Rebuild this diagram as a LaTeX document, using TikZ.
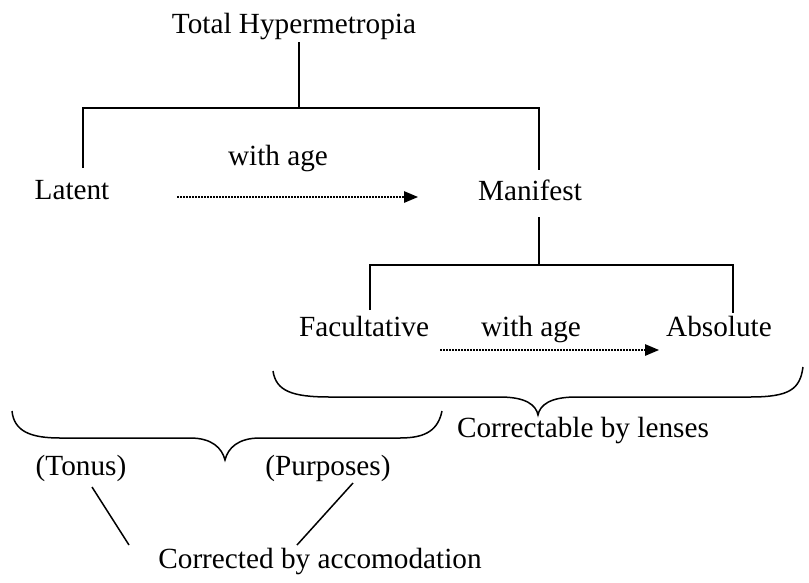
\documentclass[tikz,border=0pt]{standalone}
\usepackage{fontspec}
\setmainfont{Liberation Serif}
\usetikzlibrary{arrows.meta}

\tikzset{
  lbl/.style = {font=\fontsize{11.7}{14}\selectfont, inner sep=1pt, anchor=base},
  agearrow/.style = {line width=0.5pt, dash pattern=on 0.7pt off 0.5pt,
    -{Triangle[length=5.6pt,width=4.6pt]}},
}

\begin{document}
\begin{tikzpicture}[x=0.4pt, y=-0.4pt, line width=0.6pt]

\useasboundingbox (0,0) rectangle (809,582);

% texts
\node[lbl] (total) at (294,33) {Total Hypermetropia};
\node[lbl] (latent) at (72,199) {Latent};
\node[lbl] (age1) at (278,165) {with age};
\node[lbl] (manifest) at (530,200) {Manifest};
\node[lbl] (facult) at (364,336) {Facultative};
\node[lbl] (age2) at (531,336) {with age};
\node[lbl] (absolute) at (719,336) {Absolute};
\node[lbl] (lenses) at (583,437) {Correctable by lenses};
\node[lbl] (tonus) at (81,475) {(Tonus)};
\node[lbl] (purpose) at (328,475) {(Purposes)};
\node[lbl] (accom) at (320,568) {Corrected by accomodation};

% tree
\coordinate (top) at (299,42);
\coordinate (bar1) at (299,108);
\coordinate (bar1l) at (83,108);
\coordinate (bar1r) at (539,108);
\coordinate (mid) at (539,217);
\coordinate (bar2) at (539,265);
\coordinate (bar2l) at (370,265);
\coordinate (bar2r) at (733,265);

\draw (top) -- (bar1);
\draw (83,168) -- (bar1l) -- (bar1r) -- (539,170);
\draw (mid) -- (bar2);
\draw (370,310) -- (bar2l) -- (bar2r) -- (733,313);

% with age
\coordinate (a1s) at (177,197);
\coordinate (a1e) at (418,197);
\coordinate (a2s) at (440,350);
\coordinate (a2e) at (659,350);
\draw[agearrow] (a1s) -- (a1e);
\draw[agearrow] (a2s) -- (a2e);

% braces
\draw (273,371) .. controls (276,391) and (292,397) .. (330,397) -- (500,397)
  .. controls (526,397) and (536,405) .. (538,415)
  .. controls (540,405) and (550,397) .. (576,397) -- (750,397)
  .. controls (790,397) and (800,389) .. (803,367);
\draw (12,411) .. controls (14,431) and (30,438) .. (60,438) -- (190,438)
  .. controls (212,438) and (222,448) .. (225,460)
  .. controls (228,448) and (238,438) .. (260,438) -- (400,438)
  .. controls (426,438) and (438,430) .. (442,411);

% accomodation
\coordinate (c1) at (92,487);
\coordinate (c2) at (129,545);
\coordinate (c3) at (353,483);
\coordinate (c4) at (297,545);
\draw (c1) -- (c2);
\draw (c3) -- (c4);

\end{tikzpicture}
\end{document}
